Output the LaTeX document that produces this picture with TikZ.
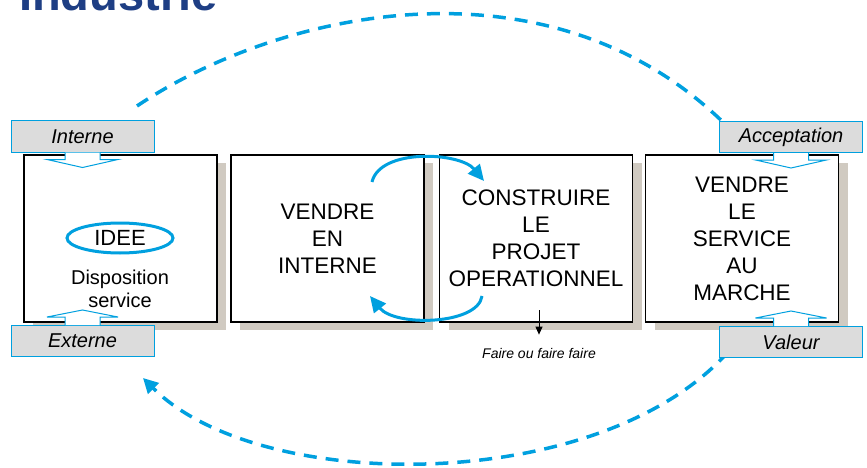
\documentclass[tikz,border=0pt]{standalone}
\usepackage{fontspec}
\setmainfont{Liberation Sans}
\usetikzlibrary{arrows.meta,shapes.geometric,shadows}
\definecolor{trait}{RGB}{0,160,223}
\definecolor{ombre}{RGB}{208,202,193}
\definecolor{etiquette}{RGB}{220,220,220}
\definecolor{titreBleu}{RGB}{30,62,132}

\tikzset{
  bloc/.style={draw=black, line width=1.2pt, fill=white, minimum width=193pt,
    minimum height=167pt, inner sep=0pt, align=center,
    font=\fontsize{22.5}{27}\selectfont,
    drop shadow={shadow xshift=9pt, shadow yshift=-8pt, fill=ombre, opacity=1}},
  tag/.style={draw=trait, line width=1pt, fill=etiquette, minimum width=143pt,
    minimum height=31pt, inner sep=0pt, font=\fontsize{20}{24}\selectfont\itshape},
  pointe/.style={draw=trait, line width=1pt, fill=white},
  boucle/.style={trait, line width=3pt, -{Triangle[length=16pt,width=15pt]}},
  retour/.style={trait, line width=3.5pt, dash pattern=on 13pt off 9pt},
}

\begin{document}
\begin{tikzpicture}[x=1pt,y=-1pt]
  \useasboundingbox (0,0) rectangle (867,468);
  \clip (0,0) rectangle (867,468);

  \node[anchor=base west, inner sep=0pt, text=titreBleu,
    font=\fontsize{47}{50}\selectfont\bfseries] (titre) at (19,11) {Industrie};

  % grandes boucles en pointille
  \coordinate (haut-depart) at (137,106);
  \coordinate (haut-fin) at (728,127);
  \coordinate (bas-depart) at (728,352);
  \coordinate (bas-fin) at (143,378);
  \draw[retour] (haut-depart) .. controls (280,10) and (551,-50) .. (haut-fin);
  \draw[retour, -{Triangle[length=15pt,width=15pt]}]
    (bas-depart) .. controls (600,495) and (260,495) .. (bas-fin);

  % les quatre etapes
  \node[bloc] (idee-bloc) at (120.5,238.5) {};
  \node[bloc] (vendre) at (327.5,238.5) {VENDRE\\EN\\INTERNE};
  \node[bloc] (construire) at (536,238.5) {CONSTRUIRE\\LE\\PROJET\\OPERATIONNEL};
  \node[bloc] (marche) at (742,238.5) {VENDRE\\LE\\SERVICE\\AU\\MARCHE};

  \node[ellipse, draw=trait, line width=3pt, minimum width=106pt, minimum height=30pt,
    inner sep=0pt, font=\fontsize{22}{26}\selectfont] (idee) at (120,238) {IDEE};
  \node[align=center, inner sep=0pt, font=\fontsize{20}{23}\selectfont] (dispo)
    at (120,288.5) {Disposition\\service};

  % aller-retour entre vendre et construire
  \coordinate (v1) at (372,182);
  \coordinate (c1) at (484,181);
  \coordinate (c2) at (482,296);
  \coordinate (v2) at (370,296);
  \draw[boucle] (v1) .. controls (380,148) and (460,152) .. (c1);
  \draw[boucle] (c2) .. controls (478,325) and (395,327) .. (v2);

  % entrees
  \node[tag] (interne) at (82.5,136.5) {Interne};
  \node[tag] (externe) at (82.5,341) {Externe};
  \node[tag] (accept) at (791,137) {Acceptation};
  \node[tag] (valeur) at (791,342) {Valeur};

  \filldraw[pointe] ([xshift=-17.5pt]interne.south) -- ++(0,7) -- ++(-18,0)
    -- ++(35.5,8) -- ++(35.5,-8) -- ++(-18,0) -- ++(0,-7);
  \filldraw[pointe] ([xshift=-17.5pt]accept.south) -- ++(0,7) -- ++(-18,0)
    -- ++(35.5,8) -- ++(35.5,-8) -- ++(-18,0) -- ++(0,-7);
  \filldraw[pointe] ([xshift=-17.5pt]externe.north) -- ++(0,-8) -- ++(-18,0)
    -- ++(35.5,-7) -- ++(35.5,7) -- ++(-18,0) -- ++(0,8);
  \filldraw[pointe] ([xshift=-17.5pt]valeur.north) -- ++(0,-8) -- ++(-18,0)
    -- ++(35.5,-7) -- ++(35.5,7) -- ++(-18,0) -- ++(0,8);

  \node[inner sep=0pt, font=\fontsize{14}{16}\selectfont\itshape] (faire)
    at (539,353) {Faire ou faire faire};
  \coordinate (faire-haut) at (539,310);
  \draw[line width=1pt, -{Triangle[length=8pt,width=7pt]}]
    (faire-haut) -- ([yshift=13pt]faire.north);
\end{tikzpicture}
\end{document}
